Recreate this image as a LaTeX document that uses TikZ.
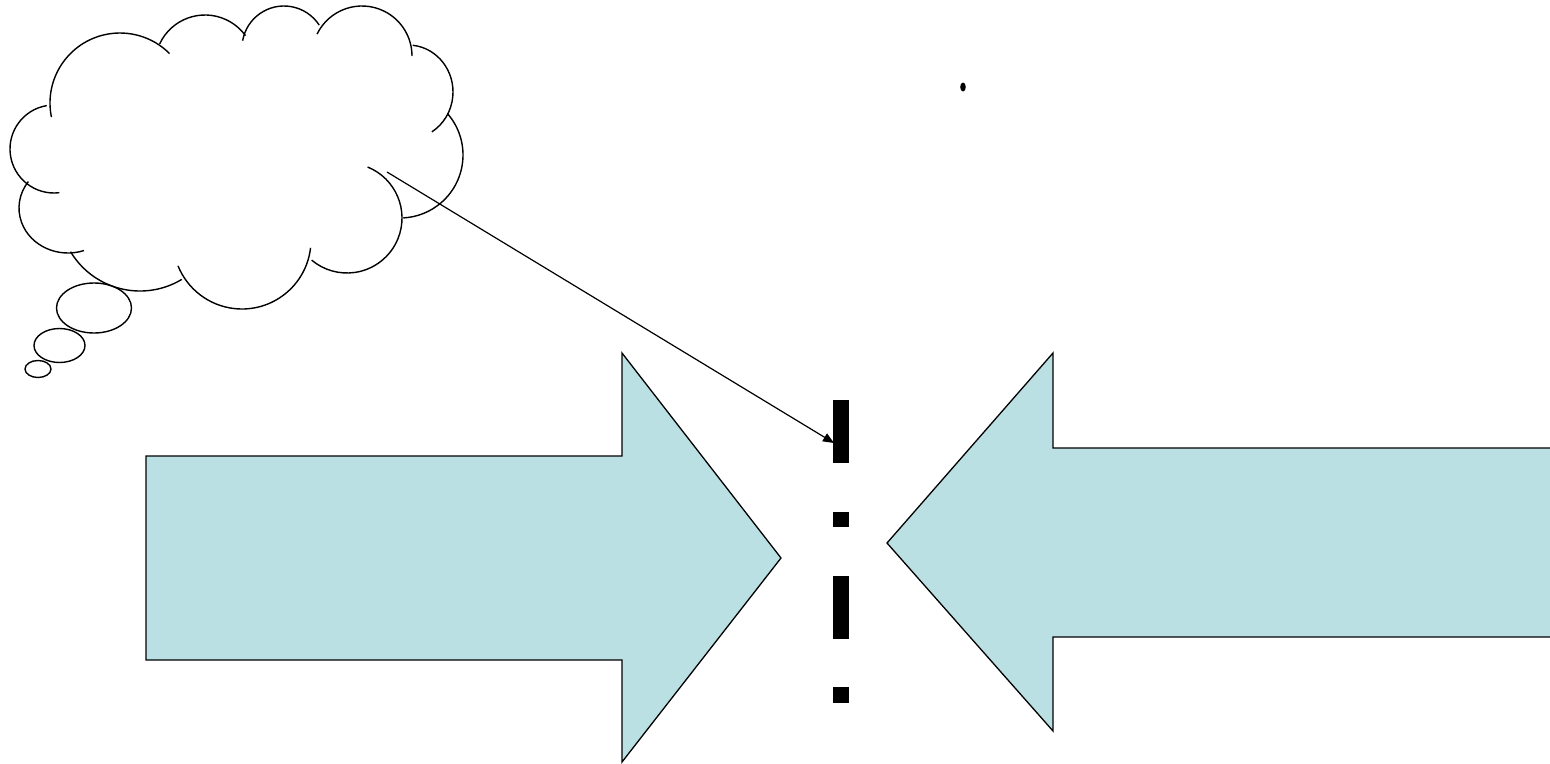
\documentclass[tikz,border=0pt]{standalone}
\usetikzlibrary{arrows.meta}
\definecolor{arrowfill}{HTML}{BBE0E3}
\begin{document}
\begin{tikzpicture}[x=1pt,y=-1pt,
  cloudline/.style={line width=1.4pt},
  bigarrow/.style={draw=black, line width=1.3pt, line join=miter},
  pointer/.style={line width=1.2pt, -{Triangle[length=11pt,width=9pt]}},
  barline/.style={line width=16pt, dash pattern=on 63pt off 49pt on 15pt off 49pt on 63pt off 48pt on 16pt off 100pt},
]
\useasboundingbox (0,0) rectangle (1550,763);

% cloud bumps
\draw[cloudline] (120,103) ++(-191.6:70) arc[start angle=-191.6, end angle=-45, radius=70];
\draw[cloudline] (205,65) ++(-155:50) arc[start angle=-155, end angle=-36, radius=50];
\draw[cloudline] (284,48) ++(-170:42) arc[start angle=-170, end angle=-33, radius=42];
\draw[cloudline] (362,56) ++(-154:50) arc[start angle=-154, end angle=0, radius=50];
\draw[cloudline] (408,92) ++(-84:45 and 47) arc[start angle=-84, end angle=58, x radius=45, y radius=47];
\draw[cloudline] (400,155) ++(-41:63) arc[start angle=-41, end angle=87, radius=63];
\draw[cloudline] (347,218) ++(-68:55) arc[start angle=-68, end angle=130, radius=55];
\draw[cloudline] (242,240) ++(6.5:69) arc[start angle=6.5, end angle=158, radius=69];
\draw[cloudline] (140,210) ++(59:81) arc[start angle=59, end angle=149, radius=81];
\draw[cloudline] (68,208) ++(71:49 and 45) arc[start angle=71, end angle=216, x radius=49, y radius=45];
\draw[cloudline] (54,149) ++(83:44) arc[start angle=83, end angle=260.5, radius=44];

% thought bubbles
\draw[cloudline] (94,308) ellipse[x radius=37.5, y radius=25];
\draw[cloudline] (59.5,345.5) ellipse[x radius=25.5, y radius=17];
\draw[cloudline] (38,369) ellipse[x radius=13, y radius=8.5];

% small dot
\fill (963,87) ellipse[x radius=2.8, y radius=4.5];

% left big arrow
\path[fill=arrowfill] (146,456) -- (622,456) -- (622,353) -- (781,558) -- (622,762) -- (622,660) -- (146,660) -- cycle;
\draw[bigarrow] (146,456) -- (622,456) -- (622,353) -- (781,558) -- (622,762) -- (622,660) -- (146,660) -- cycle;

% right big arrow (cut by the right edge)
\path[fill=arrowfill] (1551,448) -- (1053,448) -- (1053,353) -- (887,543) -- (1053,731) -- (1053,637) -- (1551,637) -- cycle;
\draw[bigarrow] (1552,448) -- (1053,448) -- (1053,353) -- (887,543) -- (1053,731) -- (1053,637) -- (1552,637);

% dash-dot bar
\coordinate (bartop) at (841,400);
\coordinate (barbot) at (841,703);
\draw[barline] (bartop) -- (barbot);

% pointer
\coordinate (cloudtail) at (387,172);
\coordinate (barhit) at (834,443);
\draw[pointer] (cloudtail) -- (barhit);
\end{tikzpicture}
\end{document}
